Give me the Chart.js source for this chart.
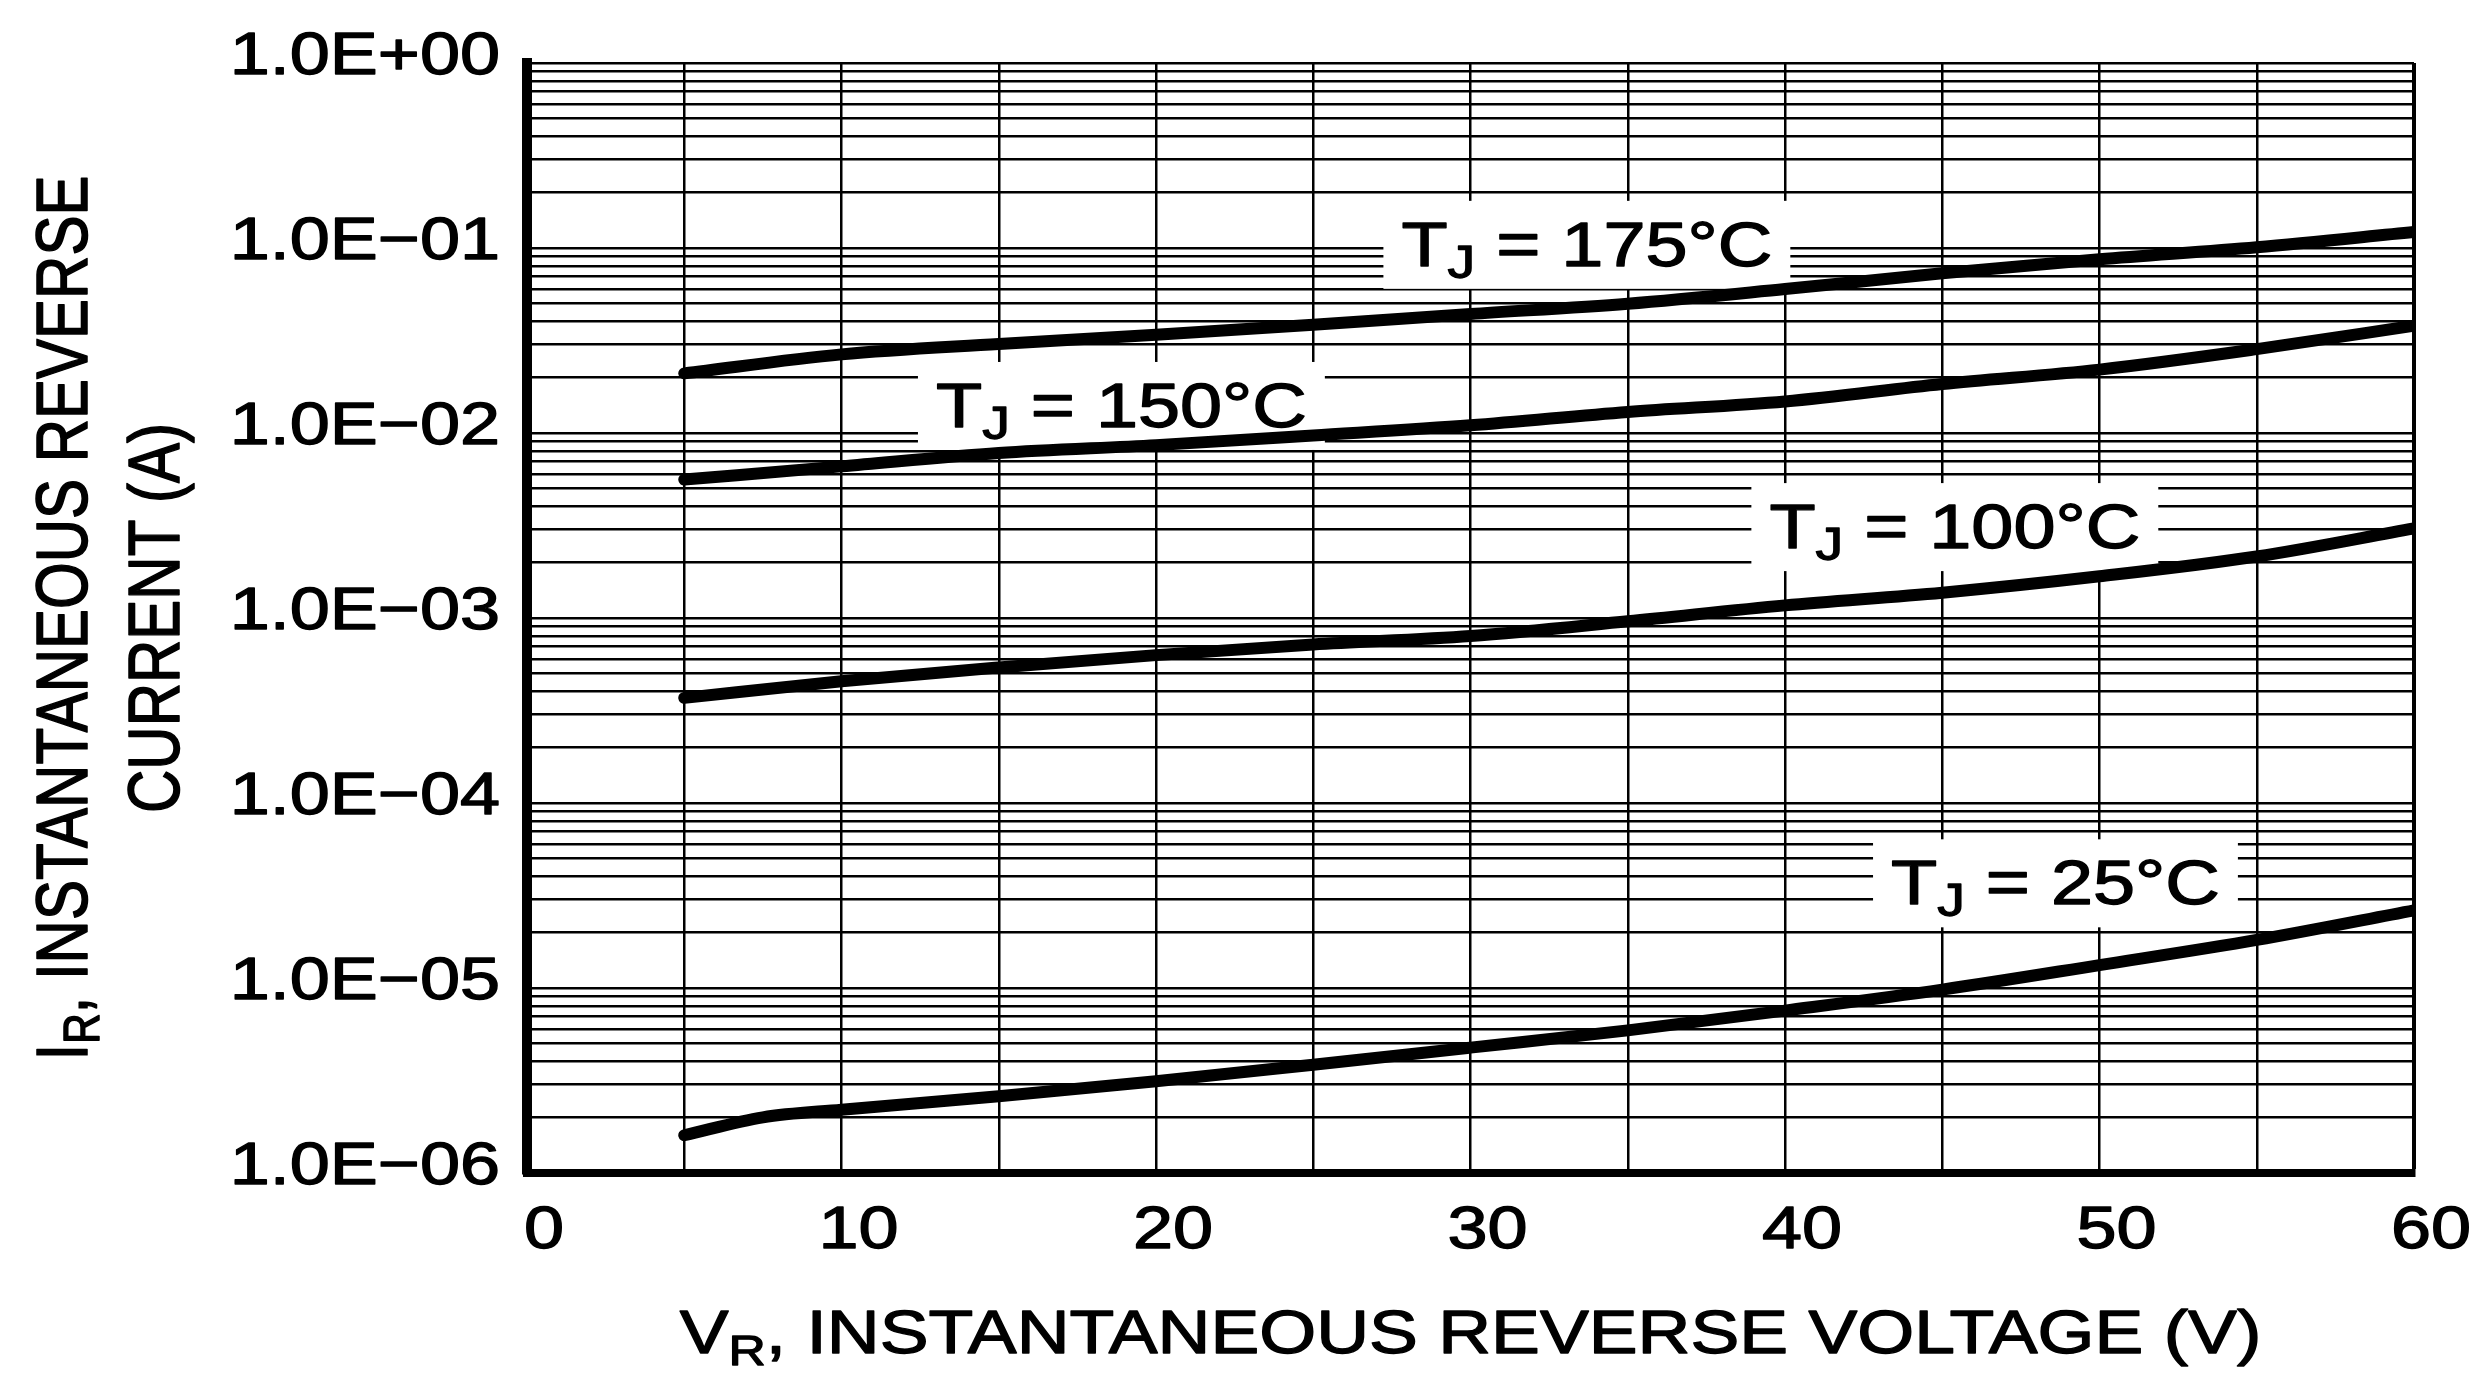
<!DOCTYPE html>
<html>
<head>
<meta charset="utf-8">
<script src="https://cdn.jsdelivr.net/npm/chart.js@4.4.1/dist/chart.umd.min.js"></script>
<style>
  html, body { margin: 0; padding: 0; background: #fff; }
  canvas { display: block; }
</style>
</head>
<body>
<canvas id="chart" width="2485" height="1373"></canvas>
<script>
// reverse voltage (V)
var voltage = [5, 10, 15, 20, 25, 30, 35, 40, 45, 50, 55, 60];
var voltage25 = [5, 7.5, 10, 15, 20, 25, 30, 35, 40, 45, 50, 55, 60];

// reverse current (A), one list per junction temperature
var current175 = [0.021, 0.0266, 0.0303, 0.034, 0.0385, 0.044, 0.050, 0.060, 0.073, 0.087, 0.101, 0.122];
var current150 = [0.0056, 0.0066, 0.0078, 0.0086, 0.0097, 0.011, 0.013, 0.0148, 0.0184, 0.022, 0.0284, 0.038];
var current100 = [3.7e-4, 4.55e-4, 5.4e-4, 6.3e-4, 7.2e-4, 8.0e-4, 9.6e-4, 1.17e-3, 1.37e-3, 1.68e-3, 2.15e-3, 3.05e-3];
var current25 = [1.6e-6, 2.0e-6, 2.2e-6, 2.6e-6, 3.13e-6, 3.85e-6, 4.76e-6, 5.9e-6, 7.55e-6, 9.8e-6, 1.33e-5, 1.82e-5, 2.63e-5];

var xTickLabels = ['0', '10', '20', '30', '40', '50', '60'];
var yDecades = [1e-6, 1e-5, 1e-4, 1e-3, 1e-2, 1e-1, 1];
var yTickLabels = ['1.0E\u221206', '1.0E\u221205', '1.0E\u221204', '1.0E\u221203', '1.0E\u221202', '1.0E\u221201', '1.0E+00'];
var yMinorSteps = [2, 3, 4, 5, 6, 7, 8, 9];

// curve labels: temperature and where the label box is centred (V, A)
var curveNames = ['175', '150', '100', '25'];
var labelAtV = [33.7, 18.9, 45.4, 48.6];
var labelAtA = [0.104, 0.0140, 0.0031, 3.68e-5];

// the original sheet has its text set noticeably wide
var STRETCH = 1.2;
var FONT = "'Liberation Sans', Arial, sans-serif";

function points(xs, ys) {
    return xs.map(function (x, i) { return {x: x, y: ys[i]}; });
}

// fill plus a hairline stroke, the scan's glyphs are a bit heavier than regular
function plainText(ctx, text, x, y, sx, sy) {
    ctx.save();
    ctx.translate(x, y);
    ctx.scale(sx, sy);
    ctx._plainFill(text, 0, 0);
    ctx.strokeStyle = ctx.fillStyle;
    ctx.lineWidth = 1.3;
    ctx.lineJoin = 'round';
    ctx.strokeText(text, 0, 0);
    ctx.restore();
}

function font(size) {
    return size + 'px ' + FONT;
}

// parts: [[text, isSub], ...], drawn left to right from x along the baseline y
function richWidth(ctx, parts, size, subSize) {
    var w = 0;
    parts.forEach(function (p) {
        ctx.font = font(p[1] ? subSize : size);
        w += ctx.measureText(p[0]).width;
    });
    return w;
}

function drawRich(ctx, parts, x, y, size, subSize, drop, sx, sy) {
    parts.forEach(function (p) {
        ctx.font = font(p[1] ? subSize : size);
        plainText(ctx, p[0], x, y + (p[1] ? drop : 0), sx, sy);
        x += ctx.measureText(p[0]).width * sx;
    });
}

function labelParts(name) {
    return [['T', false], ['J', true], [' = ' + name + '\u00B0C', false]];
}

var wideText = {
    id: 'wideText',
    beforeDraw: function (chart) {
        var ctx = chart.ctx;
        if (ctx._plainFill) return;
        ctx._plainFill = ctx.fillText;
        ctx.fillText = function (text, x, y) {
            plainText(this, text, x, y, STRETCH, 1);
        };
    }
};

var decorations = {
    id: 'decorations',
    // white boxes go over the grid but under the curves
    beforeDatasetsDraw: function (chart) {
        var ctx = chart.ctx;
        var xs = chart.scales.x, ys = chart.scales.y;
        ctx.save();
        ctx.fillStyle = '#fff';
        curveNames.forEach(function (name, i) {
            var w = richWidth(ctx, labelParts(name), 63, 46) * STRETCH;
            var cx = xs.getPixelForValue(labelAtV[i]);
            var cy = ys.getPixelForValue(labelAtA[i]);
            ctx.fillRect(cx - w / 2 - 18, cy - 44, w + 36, 88);
        });
        ctx.restore();
    },
    afterDatasetsDraw: function (chart) {
        var ctx = chart.ctx;
        var area = chart.chartArea;
        var xs = chart.scales.x, ys = chart.scales.y;
        ctx.save();
        ctx.fillStyle = '#000';
        ctx.textAlign = 'left';
        ctx.textBaseline = 'alphabetic';

        curveNames.forEach(function (name, i) {
            var parts = labelParts(name);
            var w = richWidth(ctx, parts, 63, 46) * STRETCH;
            var cx = xs.getPixelForValue(labelAtV[i]);
            var cy = ys.getPixelForValue(labelAtA[i]);
            drawRich(ctx, parts, cx - w / 2, cy + 21, 63, 46, 12, STRETCH, 1);
        });

        // x axis title
        var xParts = [['V', false], ['R', true], [', INSTANTANEOUS REVERSE VOLTAGE (V)', false]];
        var xw = richWidth(ctx, xParts, 61, 43) * STRETCH;
        drawRich(ctx, xParts, (area.left + area.right) / 2 - xw / 2, 1353, 61, 43, 12, STRETCH, 1);

        // y axis title, two rotated lines
        var midY = (area.top + area.bottom) / 2;
        var line1 = [['I', false], ['R', true], [', INSTANTANEOUS REVERSE', false]];
        var line2 = [['CURRENT (A)', false]];
        [[line1, 87], [line2, 179]].forEach(function (l) {
            var w = richWidth(ctx, l[0], 60, 42);
            ctx.save();
            ctx.translate(l[1], midY);
            ctx.rotate(-Math.PI / 2);
            drawRich(ctx, l[0], -w / 2, 0, 60, 42, 12, 1, STRETCH);
            ctx.restore();
        });
        ctx.restore();
    }
};

var yTicks = [];
yDecades.forEach(function (d, i) {
    yTicks.push({value: d});
    if (i < yDecades.length - 1) {
        yMinorSteps.forEach(function (m) { yTicks.push({value: m * d}); });
    }
});

var curve = {
    borderColor: '#000',
    borderWidth: 12,
    pointRadius: 0,
    fill: false,
    cubicInterpolationMode: 'monotone',
    borderCapStyle: 'round',
    borderJoinStyle: 'round'
};

new Chart('chart', {
    type: 'line',
    data: {
        datasets: [
            Object.assign({label: '175', data: points(voltage, current175)}, curve),
            Object.assign({label: '150', data: points(voltage, current150)}, curve),
            Object.assign({label: '100', data: points(voltage, current100)}, curve),
            Object.assign({label: '25', data: points(voltage25, current25)}, curve)
        ]
    },
    options: {
        responsive: false,
        animation: false,
        devicePixelRatio: 1,
        layout: {padding: {top: 60, right: 71, left: 0, bottom: 0}},
        plugins: {
            legend: {display: false},
            tooltip: {enabled: false}
        },
        scales: {
            x: {
                type: 'linear',
                min: 0,
                max: 60,
                afterFit: function (scale) { scale.height = 200; },
                ticks: {
                    stepSize: 5,
                    autoSkip: false,
                    maxRotation: 0,
                    padding: 22,
                    labelOffset: 17,
                    color: '#000',
                    font: {family: FONT, size: 60},
                    callback: function (v) {
                        var s = String(v);
                        return xTickLabels.indexOf(s) >= 0 ? s : '';
                    }
                },
                grid: {
                    color: '#000',
                    drawTicks: false,
                    lineWidth: function (c) { return c.tick && c.tick.value === 60 ? 4 : 2.5; }
                },
                border: {display: true, color: '#000', width: 8}
            },
            y: {
                type: 'logarithmic',
                min: 1e-6,
                max: 1,
                afterFit: function (scale) { scale.width = 527; },
                afterBuildTicks: function (scale) {
                    scale.ticks = yTicks.map(function (t) { return {value: t.value}; });
                },
                ticks: {
                    autoSkip: false,
                    padding: 27,
                    labelOffset: -6,
                    color: '#000',
                    font: {family: FONT, size: 60},
                    callback: function (v) {
                        for (var i = 0; i < yDecades.length; i++) {
                            if (Math.abs(v / yDecades[i] - 1) < 1e-6) return yTickLabels[i];
                        }
                        return '';
                    }
                },
                grid: {color: '#000', lineWidth: 2.5, drawTicks: false},
                border: {display: true, color: '#000', width: 10}
            }
        }
    },
    plugins: [wideText, decorations]
});
</script>
</body>
</html>
